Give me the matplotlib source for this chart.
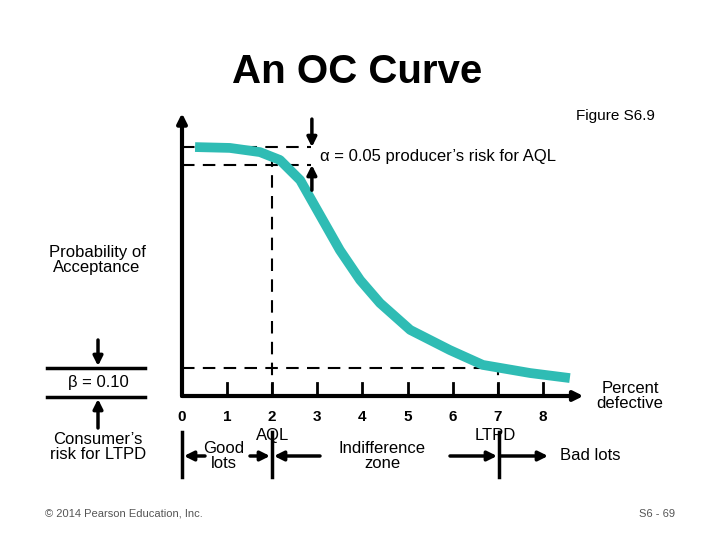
import matplotlib
matplotlib.use("Agg")
import matplotlib.pyplot as plt

plt.rcParams['font.family'] = ['Liberation Sans', 'DejaVu Sans']

pct_defective = [0.29, 1.06, 1.73, 2.17, 2.62, 3.06, 3.50, 3.95, 4.39, 5.06, 5.94, 6.67, 7.72, 8.60]
prob_accept = [0.889, 0.886, 0.871, 0.843, 0.771, 0.646, 0.521, 0.414, 0.332, 0.236, 0.164, 0.111, 0.082, 0.064]
tick_values = [0, 1, 2, 3, 4, 5, 6, 7, 8]
aql, ltpd = 2, 7
alpha_top, alpha_bot = 0.889, 0.825
beta = 0.10

W, H = 720, 540
fig = plt.figure(figsize=(7.2, 5.4), dpi=100)
PX = 45.1
ax = fig.add_axes([182 / W, (540 - 396) / H, 9 * PX / W, 280 / H])
ax.set_xlim(0, 9)
ax.set_ylim(0, 1)
ax.axis('off')

def fx(px): return px / W
def fy(py): return 1 - py / H

# axes with arrows
ax.annotate('', xy=(0, 1.01), xytext=(0, 0), xycoords='data', annotation_clip=False,
            arrowprops=dict(arrowstyle='-|>', lw=3, color='black', mutation_scale=14, shrinkA=0, shrinkB=0))
ax.annotate('', xy=(8.9, 0), xytext=(0, 0), annotation_clip=False,
            arrowprops=dict(arrowstyle='-|>', lw=3, color='black', mutation_scale=14, shrinkA=0, shrinkB=0))
for t in tick_values[1:]:
    ax.plot([t, t], [0, 0.045], color='black', lw=2, clip_on=False)
    ax.text(t, -0.05, str(t), ha='center', va='top', fontsize=11, fontweight='bold')
ax.text(0, -0.05, '0', ha='center', va='top', fontsize=11, fontweight='bold')

# dashed guides
ax.plot([0, 2.85], [alpha_top, alpha_top], 'k--', lw=1.5, dashes=(6, 4))
ax.plot([0, 2.85], [alpha_bot, alpha_bot], 'k--', lw=1.5, dashes=(6, 4))
ax.plot([aql, aql], [0, alpha_top], 'k--', lw=1.5, dashes=(6, 4))
ax.plot([0, 6.68], [beta, beta], 'k--', lw=1.5, dashes=(6, 4))
ax.plot([ltpd, ltpd], [0, 0.09], 'k--', lw=1.5, dashes=(6, 4))

# curve
ax.plot(pct_defective, prob_accept, color='#2fbcb4', lw=7, solid_capstyle='butt', clip_on=False)

# alpha arrows
ap = dict(arrowstyle='-|>', lw=2.5, color='black', mutation_scale=14, shrinkA=0, shrinkB=0)
ax.annotate('', xy=(2.88, alpha_top), xytext=(2.88, alpha_top + 0.1), annotation_clip=False, arrowprops=ap)
ax.annotate('', xy=(2.88, alpha_bot), xytext=(2.88, alpha_bot - 0.09), annotation_clip=False, arrowprops=ap)
fig.text(fx(320), fy(157), 'α = 0.05 producer’s risk for AQL', ha='left', va='center', fontsize=12)

# title etc.
fig.text(fx(357), fy(72), 'An OC Curve', ha='center', va='center', fontsize=29, fontweight='bold')
fig.text(fx(655), fy(116), 'Figure S6.9', ha='right', va='center', fontsize=11)
fig.text(fx(97), fy(260), 'Probability of\nAcceptance', ha='center', va='center', fontsize=12, linespacing=1.0)

# beta annotation (figure pixel coords)
fa = dict(arrowstyle='-|>', lw=2.5, color='black', mutation_scale=14, shrinkA=0, shrinkB=0)
for yy in (368, 397):
    fig.add_artist(plt.Line2D([fx(47), fx(145)], [fy(yy), fy(yy)], color='black', lw=2.5))
fig.text(fx(98), fy(383), 'β = 0.10', ha='center', va='center', fontsize=12)
ax.annotate('', xy=(fx(98), fy(366)), xytext=(fx(98), fy(340)), xycoords='figure fraction', arrowprops=fa)
ax.annotate('', xy=(fx(98), fy(399)), xytext=(fx(98), fy(428)), xycoords='figure fraction', arrowprops=fa)
fig.text(fx(98), fy(447), 'Consumer’s\nrisk for LTPD', ha='center', va='center', fontsize=12, linespacing=1.0)

fig.text(fx(630), fy(396), 'Percent\ndefective', ha='center', va='center', fontsize=12, linespacing=1.0)
ax.text(aql, -0.115, 'AQL', ha='center', va='top', fontsize=12)
ax.text(ltpd - 0.05, -0.115, 'LTPD', ha='center', va='top', fontsize=12)

# zone markers
for xx in (182, 272, 499):
    fig.add_artist(plt.Line2D([fx(xx), fx(xx)], [fy(432), fy(477)], color='black', lw=2.5))
for x0, x1 in ((205, 184), (250, 270), (320, 274), (450, 497), (501, 548)):
    ax.annotate('', xy=(fx(x1), fy(456)), xytext=(fx(x0), fy(456)), xycoords='figure fraction', arrowprops=fa)
fig.text(fx(224), fy(456), 'Good\nlots', ha='center', va='center', fontsize=12, linespacing=1.0)
fig.text(fx(382), fy(456), 'Indifference\nzone', ha='center', va='center', fontsize=12, linespacing=1.0)
fig.text(fx(590), fy(456), 'Bad lots', ha='center', va='center', fontsize=12)

fig.text(fx(45), fy(514), '© 2014 Pearson Education, Inc.', ha='left', va='center', fontsize=8, color='#555555')
fig.text(fx(675), fy(514), 'S6 - 69', ha='right', va='center', fontsize=8, color='#555555')

fig.savefig('out.png', dpi=100)
